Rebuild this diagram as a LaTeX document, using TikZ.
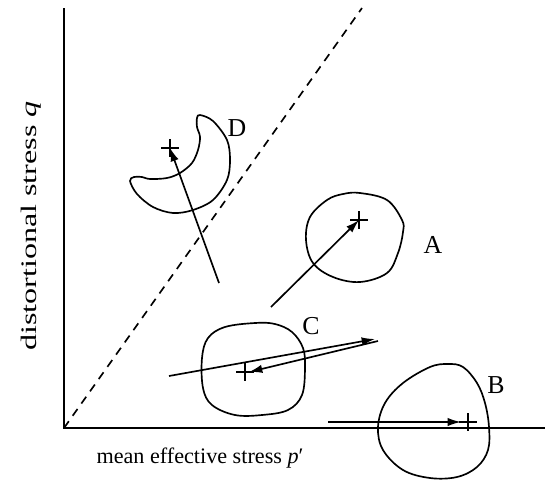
\documentclass[tikz,border=0pt]{standalone}
\usepackage{fontspec}
\setmainfont{Liberation Serif}
\usetikzlibrary{arrows.meta}

\begin{document}
\begin{tikzpicture}[
  x=0.6pt, y=-0.6pt,
  >={Latex[length=8pt,width=5pt]},
  line width=1pt,
  axislabel/.style={font=\fontsize{13.3}{16}\selectfont},
  zonelabel/.style={font=\fontsize{15.5}{18}\selectfont},
  surface/.style={line width=1pt},
  plusmark/.pic={\draw (-9,0) -- (9,0) (0,-9) -- (0,9);}
]
  \useasboundingbox (0,0) rectangle (545,480);

  % axes and the critical state line
  \coordinate (origin) at (64,428);
  \coordinate (qtop) at (64,8);
  \coordinate (pend) at (545,428);
  \coordinate (csl) at (362,8);
  \draw (qtop) -- (origin) -- (pend);
  \draw[dashed, dash pattern=on 5pt off 4pt] (origin) -- (csl);

  \node[axislabel, rotate=90, xscale=1.45] (qlabel) at (31,226) {distortional stress \textit{q}};
  \node[axislabel] (plabel) at (200,458) {mean effective stress \textit{p}′};

  % centres of the yield surfaces
  \coordinate (cA) at (359,220);
  \coordinate (cB) at (468,422);
  \coordinate (cC) at (245,372);
  \coordinate (cD) at (170,148);

  % surface A
  \draw[surface] plot[smooth cycle, tension=0.6] coordinates {
    (360,193) (387,200) (402,220) (403,232) (398,253) (387,273)
    (360,282) (333,277) (313,263) (306,240) (310,217) (327,200) (343,194)};
  % surface B
  \draw[surface] plot[smooth cycle, tension=0.6] coordinates {
    (448,364) (430,367) (403,383) (385,403) (378,427) (383,450)
    (403,470) (430,478) (457,477) (477,467) (488,450) (489,427)
    (485,403) (477,383) (463,367)};
  % surface C
  \draw[surface] plot[smooth cycle, tension=0.6] coordinates {
    (255,323) (225,327) (208,338) (202,358) (203,388) (212,405)
    (235,415) (262,415) (288,410) (302,395) (305,368) (303,348)
    (292,332) (275,324)};
  % surface D
  \draw[surface] plot[smooth cycle, tension=0.55] coordinates {
    (200,115) (213,121) (227,140) (230,160) (227,180) (213,200)
    (193,210) (173,213) (153,207) (137,194) (130,181) (134,177)
    (142,177) (150,179) (167,178) (180,173) (192,163) (198,150)
    (200,137) (197,127) (197,118)};

  \pic at (cA) {plusmark};
  \pic at (cB) {plusmark};
  \pic at (cC) {plusmark};
  \pic at (cD) {plusmark};

  \node[zonelabel] (A) at (433,245) {A};
  \node[zonelabel] (B) at (496,385) {B};
  \node[zonelabel] (C) at (311,326) {C};
  \node[zonelabel] (D) at (237,128) {D};

  % stress paths
  \coordinate (sA) at (271,307);
  \coordinate (sB) at (328,422);
  \coordinate (tB) at (461,422);
  \coordinate (sC) at (169,376);
  \coordinate (tC) at (375,339);
  \coordinate (rC) at (378,341);
  \coordinate (eC) at (249,372);
  \coordinate (sD) at (219,283);

  \draw[->] (sA) -- (cA);
  \draw[->] (sB) -- (tB);
  \draw[->] (sC) -- (tC);
  \draw[->] (rC) -- (eC);
  \draw[->] (sD) -- (cD);
\end{tikzpicture}
\end{document}
